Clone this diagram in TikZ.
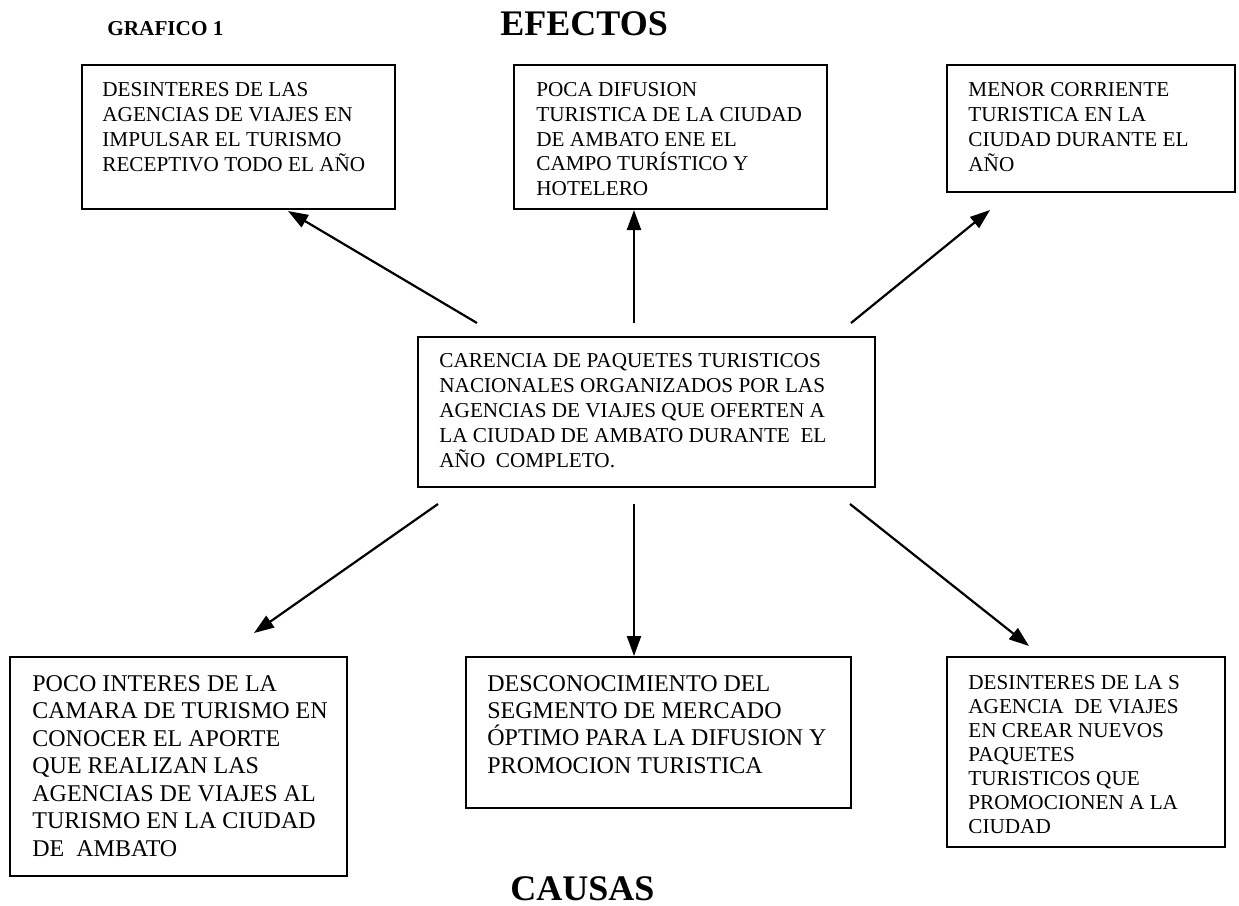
\documentclass[tikz,border=0pt]{standalone}
\usepackage{fontspec}
\setmainfont{Liberation Serif}
\usetikzlibrary{arrows.meta,fit}
\tikzset{
  box/.style={draw, line width=1pt, inner sep=0pt},
  txt/.style={anchor=north west, align=left, inner sep=0pt, font=\fontsize{10.6}{12.5}\selectfont},
  txtbig/.style={anchor=north west, align=left, inner sep=0pt, font=\fontsize{12}{13.75}\selectfont},
  title/.style={anchor=base west, inner sep=0pt, font=\bfseries\fontsize{18}{20}\selectfont},
  arr/.style={line width=1.1pt, -{Triangle[length=10pt,width=7pt]}}
}
\begin{document}
\begin{tikzpicture}[x=0.5pt,y=-0.5pt]
\useasboundingbox (0,0) rectangle (1239,906);
% titles
\node[anchor=base west, inner sep=0pt, font=\bfseries\fontsize{10.6}{12}\selectfont] (graf) at (107,35) {GRAFICO 1};
\node[title] (efectos) at (500,35) {EFECTOS};
\node[title] (causas) at (510,900) {CAUSAS};
% boxes
\node[box, fit={(82,65) (395,209)}] (tl) {};
\node[box, fit={(514,65) (827,209)}] (tm) {};
\node[box, fit={(947,65) (1235,192)}] (tr) {};
\node[box, fit={(418,337) (875,487)}] (c) {};
\node[box, fit={(10,657) (347,876)}] (bl) {};
\node[box, fit={(466,657) (851,808)}] (bm) {};
\node[box, fit={(947,657) (1225,847)}] (br) {};
% texts
\node[txt] (tlt) at (102,82) {DESINTERES DE LAS\\AGENCIAS DE VIAJES EN\\IMPULSAR EL TURISMO\\RECEPTIVO TODO EL AÑO};
\node[txt, font=\fontsize{10.6}{12.4}\selectfont] (tmt) at (536,82) {POCA DIFUSION\\TURISTICA DE LA CIUDAD\\DE AMBATO ENE EL\\CAMPO TURÍSTICO Y\\HOTELERO};
\node[txt] (trt) at (968,82) {MENOR CORRIENTE\\TURISTICA EN LA\\CIUDAD DURANTE EL\\AÑO};
\node[txt] (ct) at (439,353) {CARENCIA DE PAQUETES TURISTICOS\\NACIONALES ORGANIZADOS POR LAS\\AGENCIAS DE VIAJES QUE OFERTEN A\\LA CIUDAD DE AMBATO DURANTE\ \ EL\\AÑO\ \ COMPLETO.};
\node[txtbig] (blt) at (32,675) {POCO INTERES DE LA\\CAMARA DE TURISMO EN\\CONOCER EL APORTE\\QUE REALIZAN LAS\\AGENCIAS DE VIAJES AL\\TURISMO EN LA CIUDAD\\DE\ \ AMBATO};
\node[txtbig, font=\fontsize{12}{13.65}\selectfont] (bmt) at (487,675) {DESCONOCIMIENTO DEL\\SEGMENTO DE MERCADO\\ÓPTIMO PARA LA DIFUSION Y\\PROMOCION TURISTICA};
\node[txt, font=\fontsize{10.6}{12}\selectfont] (brt) at (968,675) {DESINTERES DE LA S\\AGENCIA\ \ DE VIAJES\\EN CREAR NUEVOS\\PAQUETES\\TURISTICOS QUE\\PROMOCIONEN A LA\\CIUDAD};
% arrow end points
\coordinate (s1) at (477,323); \coordinate (e1) at (288,211);
\coordinate (s2) at (634,323); \coordinate (e2) at (634,210);
\coordinate (s3) at (851,323); \coordinate (e3) at (990,210);
\coordinate (s4) at (438,504); \coordinate (e4) at (254,633);
\coordinate (s5) at (634,504); \coordinate (e5) at (634,656);
\coordinate (s6) at (850,504); \coordinate (e6) at (1029,646);
\draw[arr] (s1) -- (e1);
\draw[arr] (s2) -- (e2);
\draw[arr] (s3) -- (e3);
\draw[arr] (s4) -- (e4);
\draw[arr] (s5) -- (e5);
\draw[arr] (s6) -- (e6);
\end{tikzpicture}
\end{document}
